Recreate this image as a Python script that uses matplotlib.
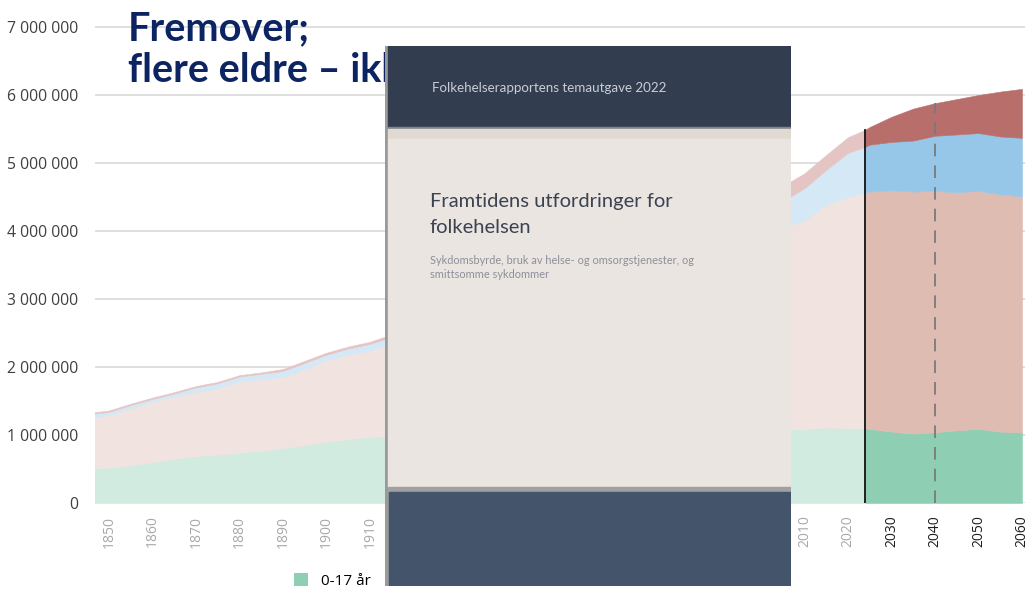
import matplotlib
matplotlib.use("Agg")
import matplotlib.pyplot as plt
from matplotlib.patches import Rectangle, Patch

# ---------------- data (persons, millions) ----------------
years_hist = [1846, 1850, 1855, 1860, 1865, 1870, 1875, 1880, 1885, 1890, 1895, 1900,
              1905, 1910, 1915, 1920, 1930, 1940, 1950, 1960, 1970, 1980, 1990,
              2000, 2005, 2010, 2015, 2020, 2024]
hist_0_17 = [0.51, 0.52, 0.56, 0.60, 0.65, 0.69, 0.71, 0.74, 0.77, 0.81, 0.85, 0.90,
             0.94, 0.97, 1.00, 1.03, 0.95, 0.82, 0.90, 1.05, 1.13, 1.07, 0.97,
             1.05, 1.08, 1.09, 1.11, 1.10, 1.10]
hist_18_66 = [0.75, 0.77, 0.83, 0.89, 0.91, 0.94, 0.98, 1.05, 1.05, 1.04, 1.12, 1.20,
              1.24, 1.27, 1.34, 1.44, 1.64, 1.89, 2.06, 2.11, 2.22, 2.39, 2.61,
              2.82, 2.96, 3.07, 3.28, 3.40, 3.47]
hist_67_79 = [0.05, 0.05, 0.05, 0.04, 0.05, 0.07, 0.07, 0.07, 0.08, 0.09, 0.09, 0.08,
              0.09, 0.10, 0.10, 0.12, 0.16, 0.20, 0.25, 0.33, 0.40, 0.46, 0.47,
              0.40, 0.40, 0.47, 0.51, 0.65, 0.67]
hist_80 = [0.02, 0.02, 0.02, 0.02, 0.02, 0.02, 0.02, 0.02, 0.02, 0.03, 0.03, 0.03,
           0.03, 0.03, 0.04, 0.04, 0.05, 0.06, 0.07, 0.09, 0.12, 0.16, 0.18,
           0.21, 0.22, 0.22, 0.22, 0.23, 0.25]

years_proj = [2024, 2025, 2030, 2035, 2040, 2045, 2050, 2055, 2060]
proj_0_17 = [1.10, 1.09, 1.05, 1.02, 1.04, 1.07, 1.09, 1.05, 1.04]
proj_18_66 = [3.47, 3.49, 3.55, 3.56, 3.55, 3.50, 3.50, 3.49, 3.47]
proj_67_79 = [0.67, 0.69, 0.71, 0.75, 0.81, 0.85, 0.85, 0.85, 0.86]
proj_80 = [0.25, 0.26, 0.37, 0.47, 0.48, 0.52, 0.56, 0.66, 0.72]

labels = ["0-17 år", "18-66 år", "67-79 år", "80 år +"]
xtick_years = list(range(1850, 2061, 10))
ytick_values = [0, 1e6, 2e6, 3e6, 4e6, 5e6, 6e6, 7e6]
split_year = 2024
marker_year = 2040

light_colors = ["#D1EBE0", "#F1E3E0", "#D5E8F5", "#E5C5C3"]
full_colors = ["#8ECFB3", "#DEBCB2", "#96C7E8", "#B86F6C"]

M = 1e6
scale = lambda arr: [v * M for v in arr]

# ---------------- figure ----------------
W, H = 1025, 589
fig = plt.figure(figsize=(W / 100, H / 100), dpi=100)
fig.patch.set_facecolor("white")

def px_axes(x0, y0, x1, y1):
    return [x0 / W, 1 - y1 / H, (x1 - x0) / W, (y1 - y0) / H]

ymax = 7.1e6
top_px = 503 - ymax / M * 68
ax = fig.add_axes(px_axes(95, top_px, 1025, 503))
ax.set_xlim(1846.8, 2060.7)
ax.set_ylim(0, ymax)

ax.stackplot(years_hist, scale(hist_0_17), scale(hist_18_66), scale(hist_67_79), scale(hist_80),
             colors=light_colors, edgecolor="face", linewidth=0.4)
ax.stackplot(years_proj, scale(proj_0_17), scale(proj_18_66), scale(proj_67_79), scale(proj_80),
             colors=full_colors, edgecolor="face", linewidth=0.4)

tot_split = (proj_0_17[0] + proj_18_66[0] + proj_67_79[0] + proj_80[0]) * M
i40 = years_proj.index(marker_year)
tot_40 = (proj_0_17[i40] + proj_18_66[i40] + proj_67_79[i40] + proj_80[i40]) * M
ax.plot([split_year, split_year], [0, tot_split], color="#111111", lw=1.3, zorder=5)
ax.plot([marker_year, marker_year], [0, tot_40], color="#7A7A7A", lw=1.3,
        linestyle=(0, (7, 5)), zorder=5)

for s in ax.spines.values():
    s.set_visible(False)
ax.set_axisbelow(True)
ax.yaxis.grid(True, color="#D9D9D9", lw=1.2)
ax.set_yticks(ytick_values)
ax.set_yticklabels([f"{int(v):,}".replace(",", " ") for v in ytick_values],
                   fontsize=11.3, color="#404040", family="Open Sans")
ax.tick_params(axis="y", length=0, pad=12)
ax.set_xticks(xtick_years)
ax.set_xticklabels([str(y) for y in xtick_years], rotation=90, fontsize=10,
                   family="Open Sans")
for y, lab in zip(xtick_years, ax.get_xticklabels()):
    lab.set_color("#1E1E1E" if y > split_year else "#A8A8A8")
ax.tick_params(axis="x", length=0, pad=9)

# legend
handles = [Patch(facecolor=c, edgecolor="none") for c in full_colors]
fig.legend(handles, labels, loc="center left", bbox_to_anchor=(280 / W, 1 - 581 / H),
           ncol=4, frameon=False, handlelength=0.9, handleheight=0.9,
           handletextpad=0.9, columnspacing=3.2, prop={"family": "Open Sans", "size": 11})

# headline
title_kw = dict(fontsize=28.5, fontweight="bold", color="#0C2462", family="Lato",
                va="baseline", ha="left", zorder=6)
fig.text(128 / W, 1 - 40 / H, "Fremover;", **title_kw)
fig.text(128 / W, 1 - 82 / H, "flere eldre – ikke", **title_kw)

# report cover overlay
cov = fig.add_axes(px_axes(385, 46, 791, 586))
cov.set_zorder(10)
cov.set_xlim(0, 406)
cov.set_ylim(540, 0)
cov.axis("off")
cov.add_patch(Rectangle((0, 0), 406, 540, color="#9A9A9A"))
cov.add_patch(Rectangle((3, 0), 403, 81, color="#333D50"))
cov.add_patch(Rectangle((3, 81), 403, 1.5, color="#7F8590"))
cov.add_patch(Rectangle((3, 82.5), 403, 10, color="#E1DAD2"))
cov.add_patch(Rectangle((3, 92.5), 403, 348.5, color="#EAE5E1"))
cov.add_patch(Rectangle((3, 441), 403, 5, color="#A0A0A0"))
cov.add_patch(Rectangle((4, 446), 402, 94, color="#44546B"))
cov.text(47, 42, "Folkehelserapportens temautgave 2022", fontsize=9.6, color="#C9CDD6",
         family="Lato", va="center", ha="left")
cov.text(45, 161, "Framtidens utfordringer for", fontsize=14.5, color="#3B4250",
         family="Lato", va="baseline", ha="left")
cov.text(45, 187, "folkehelsen", fontsize=14.5, color="#3B4250",
         family="Lato", va="baseline", ha="left")
cov.text(45, 214, "Sykdomsbyrde, bruk av helse- og omsorgstjenester, og", fontsize=7.9,
         color="#8C8F99", family="Lato", va="center", ha="left")
cov.text(45, 229, "smittsomme sykdommer", fontsize=7.9,
         color="#8C8F99", family="Lato", va="center", ha="left")

fig.savefig("out.png", dpi=100)
